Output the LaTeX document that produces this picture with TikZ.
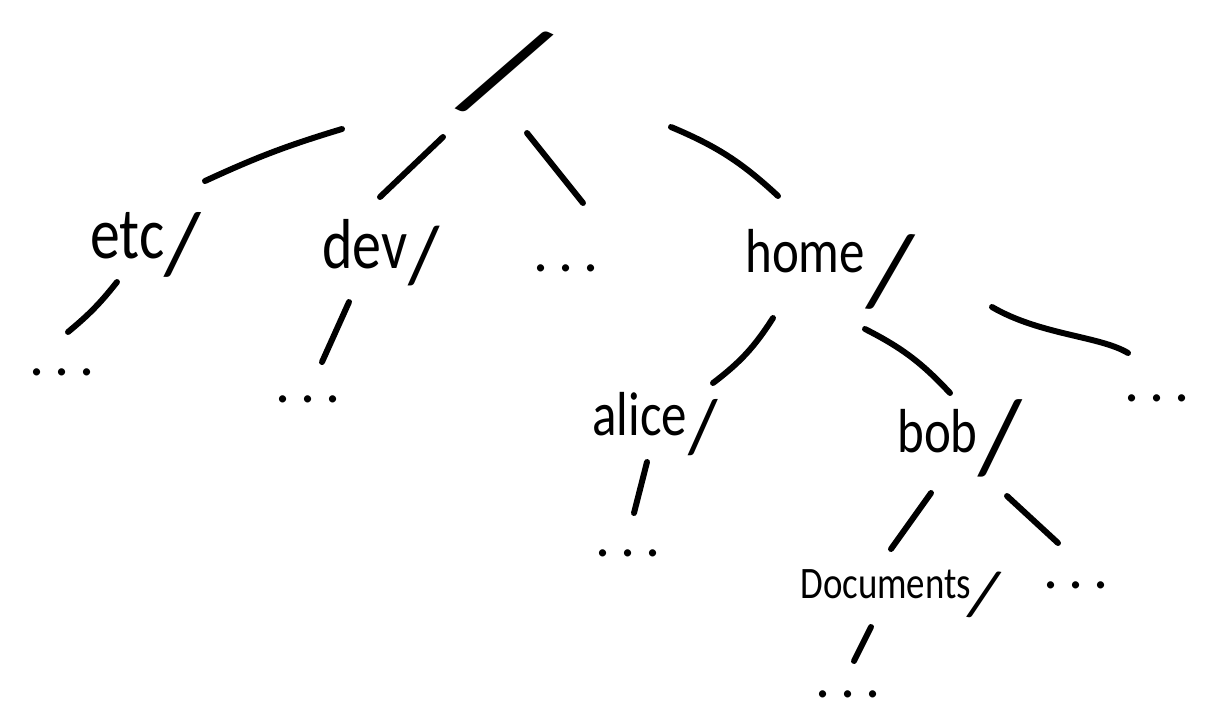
\documentclass[tikz,border=0pt]{standalone}
\usepackage{fontspec}
\usepackage{graphicx}
\setmainfont{Carlito}
% #1 word, #2 slash scale, #3 lowering, #4 kern, #5 extra tilt
\newcommand{\lab}[5]{\scalebox{1}[1.22]{#1}\kern#4\raisebox{#3}{\rotatebox[origin=c]{#5}{\scalebox{#2}{/}}}}
\tikzset{
  lbl/.style={inner sep=0pt, anchor=base west, font=\fontsize{#1pt}{#1pt}\selectfont},
  dots/.style={inner sep=0pt, anchor=base, font=\fontsize{34pt}{34pt}\selectfont},
  stroke/.style={line width=3.4pt, line cap=round, black},
}
\begin{document}
\begin{tikzpicture}[x=0.02cm, y=-0.02cm]
\useasboundingbox (0,0) rectangle (1214,725);
% nodes
\node[inner sep=0pt, rotate=-25, font=\fontsize{84pt}{84pt}\selectfont] (root) at (505,72) {/};
\node[lbl=34] (etc) at (90,258) {\lab{etc}{1.5}{-9pt}{0em}{-2}};
\node[lbl=33] (dev) at (322,268) {\lab{dev}{1.4}{-8.5pt}{0.02em}{0}};
\node[dots] (rdots) at (566,271) {.\,.\,.};
\node[lbl=29] (home) at (745,272) {\lab{home}{2.1}{-20pt}{0.02em}{-6}};
\node[dots] (etcdots) at (62,375) {.\,.\,.};
\node[dots] (devdots) at (308,402) {.\,.\,.};
\node[lbl=29] (alice) at (592,435) {\lab{alice}{1.5}{-10pt}{0.03em}{0}};
\node[lbl=29] (bob) at (897,452) {\lab{bob}{2.1}{-12pt}{0.02em}{-2}};
\node[dots] (homedots) at (1157,401) {.\,.\,.};
\node[dots] (alicedots) at (628,556) {.\,.\,.};
\node[lbl=21] (docs) at (800,598) {\lab{Documents}{1.85}{-11pt}{-0.1em}{-10}};
\node[dots] (bobdots) at (1076,588) {.\,.\,.};
\node[dots] (docsdots) at (848,697) {.\,.\,.};
% connector ends
\coordinate (re1) at (342,129); \coordinate (re2) at (205,181);
\coordinate (rd1) at (443,137); \coordinate (rd2) at (380,197);
\coordinate (rx1) at (527,133); \coordinate (rx2) at (583,203);
\coordinate (rh1) at (671,127); \coordinate (rh2) at (778,196);
\coordinate (ee1) at (117,282); \coordinate (ee2) at (68,332);
\coordinate (dd1) at (349,302); \coordinate (dd2) at (322,362);
\coordinate (ha1) at (773,318); \coordinate (ha2) at (713,383);
\coordinate (hb1) at (865,329); \coordinate (hb2) at (950,393);
\coordinate (hx1) at (992,307); \coordinate (hx2) at (1128,353);
\coordinate (aa1) at (647,462); \coordinate (aa2) at (634,513);
\coordinate (bd1) at (931,493); \coordinate (bd2) at (891,549);
\coordinate (bx1) at (1007,496); \coordinate (bx2) at (1058,543);
\coordinate (dx1) at (871,627); \coordinate (dx2) at (854,661);
% connectors
\draw[stroke] (re1) to[bend right=4] (re2);
\draw[stroke] (rd1) -- (rd2);
\draw[stroke] (rx1) -- (rx2);
\draw[stroke] (rh1) to[bend left=10] (rh2);
\draw[stroke] (ee1) to[bend left=6] (ee2);
\draw[stroke] (dd1) -- (dd2);
\draw[stroke] (ha1) to[bend left=10] (ha2);
\draw[stroke] (hb1) to[bend left=10] (hb2);
\draw[stroke] (hx1) .. controls (1040,335) and (1100,336) .. (hx2);
\draw[stroke] (aa1) -- (aa2);
\draw[stroke] (bd1) -- (bd2);
\draw[stroke] (bx1) -- (bx2);
\draw[stroke] (dx1) -- (dx2);
\end{tikzpicture}
\end{document}
